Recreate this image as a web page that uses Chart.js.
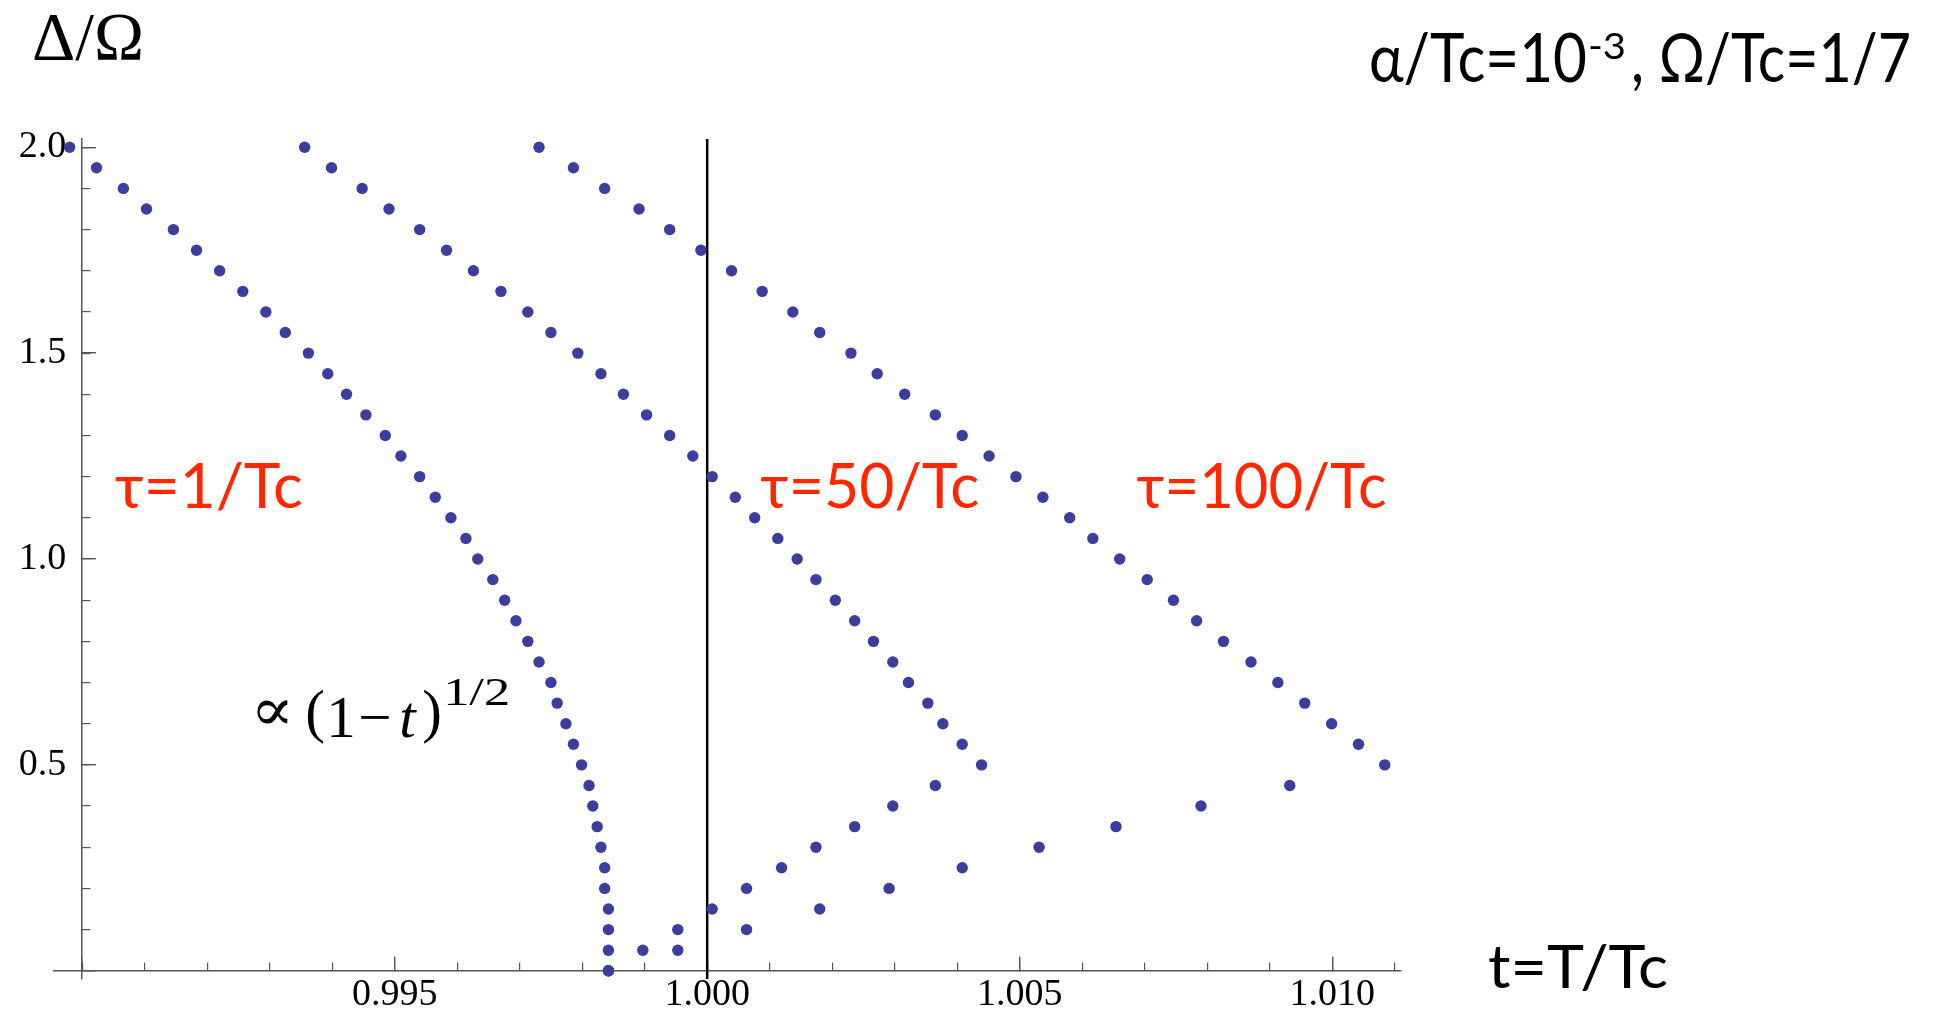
<!DOCTYPE html>
<html lang="en">
<head>
<meta charset="UTF-8">
<title>Delta / Omega against T / Tc</title>
<style>
  html, body { margin: 0; padding: 0; background: #fff; }
  canvas { display: block; }
</style>
</head>
<body>
<canvas id="gap-chart" width="1941" height="1014"></canvas>

<script src="https://cdn.jsdelivr.net/npm/chart.js@4.4.1/dist/chart.umd.min.js"></script>
<script>
// ---- data ----
// delta/Omega levels of the upper branches (2.0 down to 0.5 / 0.0)
const deltaFull = [2.00, 1.95, 1.90, 1.85, 1.80, 1.75, 1.70, 1.65, 1.60, 1.55,
                   1.50, 1.45, 1.40, 1.35, 1.30, 1.25, 1.20, 1.15, 1.10, 1.05,
                   1.00, 0.95, 0.90, 0.85, 0.80, 0.75, 0.70, 0.65, 0.60, 0.55,
                   0.50, 0.45, 0.40, 0.35, 0.30, 0.25, 0.20, 0.15, 0.10, 0.05, 0.00];
const deltaUpper = [2.00, 1.95, 1.90, 1.85, 1.80, 1.75, 1.70, 1.65, 1.60, 1.55,
                    1.50, 1.45, 1.40, 1.35, 1.30, 1.25, 1.20, 1.15, 1.10, 1.05,
                    1.00, 0.95, 0.90, 0.85, 0.80, 0.75, 0.70, 0.65, 0.60, 0.55, 0.50];
const deltaLower = [0.45, 0.40, 0.35, 0.30, 0.25, 0.20, 0.15, 0.10, 0.05, 0.00];

// t = T/Tc for tau = 1/Tc (one branch, 2.0 -> 0)
const tau1T = [0.98980, 0.99023, 0.99066, 0.99103, 0.99146, 0.99183, 0.99220, 0.99257, 0.99294, 0.99325,
               0.99362, 0.99393, 0.99423, 0.99454, 0.99485, 0.99510, 0.99540, 0.99565, 0.99590, 0.99614,
               0.99633, 0.99657, 0.99676, 0.99694, 0.99713, 0.99731, 0.99750, 0.99760, 0.99774, 0.99786,
               0.99799, 0.99811, 0.99817, 0.99824, 0.99830, 0.99836, 0.99836, 0.99842, 0.99842, 0.99842, 0.99842];

// tau = 50/Tc
const tau50UpperT = [0.99356, 0.99399, 0.99448, 0.99491, 0.99540, 0.99583, 0.99626, 0.99670, 0.99713, 0.99750,
                     0.99793, 0.99830, 0.99866, 0.99903, 0.99940, 0.99977, 1.00008, 1.00045, 1.00076, 1.00113,
                     1.00144, 1.00174, 1.00205, 1.00236, 1.00266, 1.00297, 1.00322, 1.00353, 1.00377, 1.00408, 1.00439];
const tau50LowerT = [1.00365, 1.00297, 1.00236, 1.00174, 1.00119, 1.00063, 1.00008, 0.99953, 0.99897, 0.99842];

// tau = 100/Tc
const tau100UpperT = [0.99731, 0.99786, 0.99836, 0.99891, 0.99940, 0.99990, 1.00039, 1.00088, 1.00137, 1.00180,
                      1.00230, 1.00272, 1.00316, 1.00365, 1.00408, 1.00451, 1.00494, 1.00537, 1.00580, 1.00617,
                      1.00660, 1.00704, 1.00746, 1.00783, 1.00826, 1.00870, 1.00913, 1.00956, 1.00999, 1.01042, 1.01084];
const tau100LowerT = [1.00932, 1.00790, 1.00654, 1.00531, 1.00408, 1.00291, 1.00180, 1.00063, 0.99953, 0.99842];

const tcValue = 1.0;                 // vertical line at T = Tc
const xTickLabels = ['0.995', '1.000', '1.005', '1.010'];
const yTickLabels = ['0.5', '1.0', '1.5', '2.0'];

const dotColor = '#3d3d9d';
const axisColor = '#555';
const red = '#ff2600';

function pairs(ts, ds) {
  return ts.map((t, i) => ({ x: t, y: ds[i] }));
}

function dots(data) {
  return {
    data: data,
    backgroundColor: dotColor,
    borderWidth: 0,
    pointRadius: 5.7,
    pointHoverRadius: 5.7,
    clip: false
  };
}

// vertical line at Tc
const tcLinePlugin = {
  id: 'tcLine',
  beforeDatasetsDraw(chart) {
    const { ctx, chartArea, scales } = chart;
    const x = scales.x.getPixelForValue(tcValue);
    ctx.save();
    ctx.strokeStyle = '#000';
    ctx.lineWidth = 2.5;
    ctx.beginPath();
    ctx.moveTo(x, chartArea.top);
    ctx.lineTo(x, chartArea.bottom);
    ctx.stroke();
    ctx.restore();
  }
};

// draw text squeezed / stretched to a width
function fitText(ctx, str, x, y, w) {
  const m = ctx.measureText(str).width;
  ctx.save();
  ctx.translate(x, y);
  ctx.scale(w / m, 1);
  ctx.fillText(str, 0, 0);
  ctx.restore();
}

const labelsPlugin = {
  id: 'labels',
  afterDraw(chart) {
    const { ctx, scales } = chart;
    const sx = scales.x, sy = scales.y;
    ctx.save();
    ctx.textBaseline = 'alphabetic';
    ctx.textAlign = 'left';

    // axis titles
    ctx.fillStyle = '#000';
    ctx.font = '68px "Liberation Serif"';
    fitText(ctx, 'Δ/Ω', 32, 59, 112);
    ctx.font = '60px Lato';
    fitText(ctx, 't=T/Tc', 1488, 988, 180);

    // parameters, top right
    ctx.font = '68px Lato';
    fitText(ctx, 'α/Tc=10', 1369, 82, 218);
    ctx.font = '36px Lato';
    fitText(ctx, '-3', 1588, 59, 38);
    ctx.font = '68px Lato';
    fitText(ctx, ', Ω/Tc=1/7', 1631, 82, 280);

    // tau labels, anchored in data coordinates
    ctx.fillStyle = red;
    ctx.font = '62px Lato';
    const base = sy.getPixelForValue(1.124);
    fitText(ctx, 'τ=1/Tc', sx.getPixelForValue(0.99052), base, 188);
    fitText(ctx, 'τ=50/Tc', sx.getPixelForValue(1.00085), base, 219);
    fitText(ctx, 'τ=100/Tc', sx.getPixelForValue(1.00687), base, 250);

    // square-root law
    ctx.fillStyle = '#000';
    const b2 = sy.getPixelForValue(0.568);
    const x0 = sx.getPixelForValue(0.99272);
    ctx.font = '60px "DejaVu Serif"';
    fitText(ctx, '∝', x0 - 2, b2 - 7, 44);
    ctx.font = '59px "Liberation Serif"';
    ctx.fillText('(', x0 + 53, b2 - 6);
    ctx.fillText('1', x0 + 74, b2);
    ctx.fillText('−', x0 + 106, b2);
    ctx.font = 'italic 59px "Liberation Serif"';
    ctx.fillText('t', x0 + 147, b2);
    ctx.font = '59px "Liberation Serif"';
    ctx.fillText(')', x0 + 170, b2 - 6);
    ctx.font = '41px "Liberation Serif"';
    fitText(ctx, '1/2', x0 + 191, b2 - 32, 67);
    ctx.restore();
  }
};

const tickFont = { family: '"Liberation Serif"', size: 38, lineHeight: 1 };

new Chart(document.getElementById('gap-chart'), {
  type: 'scatter',
  data: {
    datasets: [
      dots(pairs(tau1T, deltaFull)),
      dots(pairs(tau50UpperT, deltaUpper).concat(pairs(tau50LowerT, deltaLower))),
      dots(pairs(tau100UpperT, deltaUpper).concat(pairs(tau100LowerT, deltaLower)))
    ]
  },
  options: {
    responsive: false,
    animation: false,
    devicePixelRatio: 1,
    layout: { padding: { left: 54, right: 540, top: 139, bottom: 35 } },
    plugins: { legend: { display: false }, tooltip: { enabled: false } },
    scales: {
      x: {
        type: 'linear',
        min: 0.98955,
        max: 1.0111,
        position: { y: 0 },
        border: { color: axisColor, width: 1.5 },
        grid: { drawOnChartArea: false, drawTicks: true, tickLength: -15, color: axisColor, lineWidth: 1.4 },
        ticks: {
          stepSize: 0.005,
          includeBounds: false,
          autoSkip: false,
          maxRotation: 0,
          padding: 20,
          color: '#000',
          font: tickFont,
          callback: v => xTickLabels.includes(v.toFixed(3)) ? v.toFixed(3) : ''
        }
      },
      xMinor: {
        axis: 'x',
        type: 'linear',
        min: 0.98955,
        max: 1.0111,
        position: { y: 0 },
        border: { display: false },
        grid: { drawOnChartArea: false, drawTicks: true, tickLength: -8.5, color: axisColor, lineWidth: 1.2 },
        ticks: { stepSize: 0.001, includeBounds: false, autoSkip: false, maxRotation: 0, callback: () => '' }
      },
      y: {
        type: 'linear',
        min: -0.02,
        max: 2.02,
        position: { x: 0.990 },
        border: { color: axisColor, width: 1.5 },
        grid: { drawOnChartArea: false, drawTicks: true, tickLength: -15, color: axisColor, lineWidth: 1.4 },
        ticks: {
          stepSize: 0.5,
          includeBounds: false,
          autoSkip: false,
          color: '#000',
          font: tickFont,
          callback: v => yTickLabels.includes(v.toFixed(1)) ? v.toFixed(1) + '\u2005\u2006' : ''
        }
      },
      yMinor: {
        axis: 'y',
        type: 'linear',
        min: -0.02,
        max: 2.02,
        position: { x: 0.990 },
        border: { display: false },
        grid: { drawOnChartArea: false, drawTicks: true, tickLength: -8.5, color: axisColor, lineWidth: 1.2 },
        ticks: { stepSize: 0.1, includeBounds: false, autoSkip: false, callback: () => '' }
      }
    }
  },
  plugins: [tcLinePlugin, labelsPlugin]
});
</script>
</body>
</html>
